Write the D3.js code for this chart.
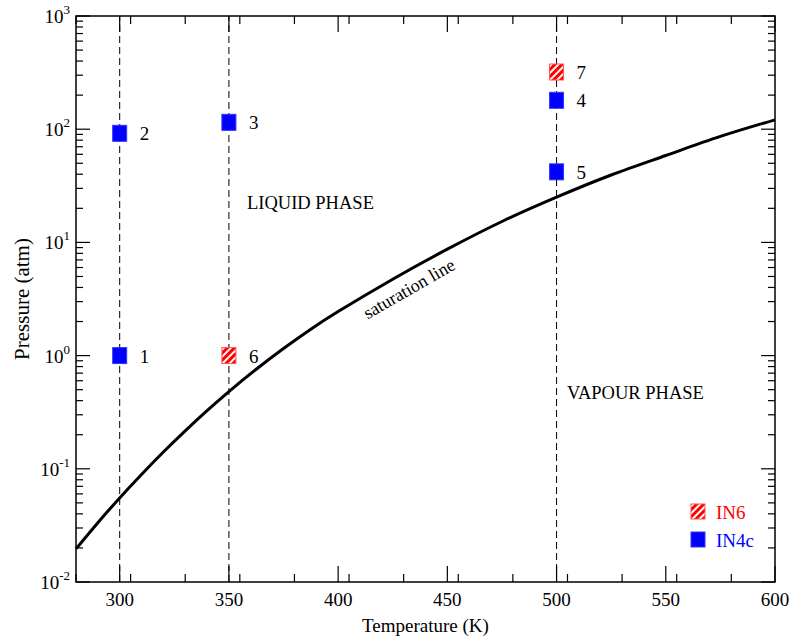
<!DOCTYPE html>
<html>
<head>
<meta charset="utf-8">
<script src="https://cdn.jsdelivr.net/npm/d3@7"></script>
<style>
  body { margin: 0; background: #fff; }
  text { font-family: 'Liberation Serif', 'Times New Roman', serif; }
</style>
</head>
<body>
<div id="chart"></div>
<script>
// saturation line
const satT = [280, 290, 300, 310, 320, 330, 340, 350, 362.5, 375, 387.5, 400, 425, 450, 475, 500, 525, 550, 575, 600]
const satP = [0.0196, 0.0334, 0.0553, 0.0891, 0.1406, 0.2163, 0.326, 0.481, 0.757, 1.155, 1.71, 2.45, 4.73, 8.71, 15.3, 25.1, 39.4, 58.6, 86.3, 121]

// state points
const ptLabel = ['1', '2', '3', '4', '5', '6', '7']
const ptT = [300, 300, 350, 500, 500, 350, 500]
const ptP = [1, 92, 115, 180, 42, 1, 320]
const ptSet = ['IN4c', 'IN4c', 'IN4c', 'IN4c', 'IN4c', 'IN6', 'IN6']

const vLines = [300, 350, 500]
const xTicks = [300, 350, 400, 450, 500, 550, 600]
const yExp = [-2, -1, 0, 1, 2, 3]
const legendNames = ['IN6', 'IN4c']

const width = 791, height = 637
const m = {top: 16, right: 16, bottom: 55, left: 76}

const svg = d3.select('#chart').append('svg')
    .attr('width', width)
    .attr('height', height)

// red / white hatch for IN6
const pat = svg.append('defs').append('pattern')
    .attr('id', 'hatch')
    .attr('patternUnits', 'userSpaceOnUse')
    .attr('width', 5)
    .attr('height', 5)
    .attr('patternTransform', 'rotate(45)')
pat.append('rect').attr('width', 5).attr('height', 5).attr('fill', '#ff0000')
pat.append('rect').attr('width', 2).attr('height', 5).attr('fill', '#fff')

const x = d3.scaleLinear().domain([280, 600]).range([m.left, width - m.right])
const y = d3.scaleLog().domain([0.01, 1000]).range([height - m.bottom, m.top])

const x0 = x.range()[0], x1 = x.range()[1]
const y0 = y.range()[0], y1 = y.range()[1]

const g = svg.append('g')

// dashed verticals
g.selectAll('line.v').data(vLines).enter().append('line')
    .attr('x1', d => x(d)).attr('x2', d => x(d))
    .attr('y1', y0).attr('y2', y1)
    .attr('stroke', '#000')
    .attr('stroke-width', 1)
    .attr('stroke-dasharray', '7,4')

// ticks, inward on all four sides
const xMinor = d3.range(280, 601, 25).filter(d => d % 50 !== 0)
const yMinor = []
yExp.slice(0, -1).forEach(e => { for (let k = 2; k <= 9; k++) yMinor.push(k * Math.pow(10, e)) })

const tg = g.append('g')
function xt(vals, len) {
    vals.forEach(v => {
        tg.append('line').attr('x1', x(v)).attr('x2', x(v)).attr('y1', y0).attr('y2', y0 - len)
        tg.append('line').attr('x1', x(v)).attr('x2', x(v)).attr('y1', y1).attr('y2', y1 + len)
    })
}
function yt(vals, len) {
    vals.forEach(v => {
        tg.append('line').attr('x1', x0).attr('x2', x0 + len).attr('y1', y(v)).attr('y2', y(v))
        tg.append('line').attr('x1', x1).attr('x2', x1 - len).attr('y1', y(v)).attr('y2', y(v))
    })
}
xt(xTicks, 16)
xt(xMinor, 8)
yt(yExp.map(e => Math.pow(10, e)), 14)
yt(yMinor, 7)
tg.selectAll('line').attr('stroke', '#000').attr('stroke-width', 1.2)

// saturation line
const line = d3.line()
    .x((d, i) => x(satT[i]))
    .y(d => y(d))
    .curve(d3.curveNatural)
g.append('path')
    .datum(satP)
    .attr('d', line)
    .attr('fill', 'none')
    .attr('stroke', '#000')
    .attr('stroke-width', 3)

// frame
g.append('rect')
    .attr('x', x0).attr('y', y1)
    .attr('width', x1 - x0).attr('height', y0 - y1)
    .attr('fill', 'none')
    .attr('stroke', '#000')
    .attr('stroke-width', 1.5)

// points
const sq = {w: 14, h: 16}
const fillOf = s => s === 'IN6' ? 'url(#hatch)' : '#0000ff'
const strokeOf = s => s === 'IN6' ? '#ff5555' : '#3333ff'
const pts = g.selectAll('g.pt').data(ptLabel).enter().append('g')
    .attr('transform', (d, i) => `translate(${x(ptT[i])},${y(ptP[i])})`)
pts.append('rect')
    .attr('x', -sq.w / 2).attr('y', -sq.h / 2)
    .attr('width', sq.w).attr('height', sq.h)
    .attr('fill', (d, i) => fillOf(ptSet[i]))
    .attr('stroke', (d, i) => strokeOf(ptSet[i]))
    .attr('stroke-width', 1)
pts.append('text')
    .attr('x', 20).attr('y', 7)
    .attr('font-size', 19)
    .text(d => d)

// x tick labels
g.selectAll('text.xl').data(xTicks).enter().append('text')
    .attr('x', d => x(d)).attr('y', y0 + 24)
    .attr('text-anchor', 'middle')
    .attr('font-size', 19)
    .text(d => d)

// y tick labels
const yl = g.selectAll('text.yl').data(yExp).enter().append('text')
    .attr('x', x0 - 6).attr('y', d => y(Math.pow(10, d)) + 7)
    .attr('text-anchor', 'end')
    .attr('font-size', 19)
yl.append('tspan').text('10')
yl.append('tspan').attr('dy', -9).attr('font-size', 13).text(d => d)

// axis titles
svg.append('text')
    .attr('x', (x0 + x1) / 2).attr('y', 632)
    .attr('text-anchor', 'middle')
    .attr('font-size', 19)
    .text('Temperature (K)')
svg.append('text')
    .attr('transform', `translate(29,${(y0 + y1) / 2}) rotate(-90)`)
    .attr('text-anchor', 'middle')
    .attr('font-size', 21)
    .text('Pressure (atm)')

// region labels
g.append('text').attr('x', 247).attr('y', 209).attr('font-size', 18.5).text('LIQUID PHASE')
g.append('text').attr('x', 567).attr('y', 399).attr('font-size', 18.5).text('VAPOUR PHASE')
g.append('text')
    .attr('transform', 'translate(412,294) rotate(-30)')
    .attr('text-anchor', 'middle')
    .attr('font-size', 18)
    .text('saturation line')

// legend
const lg = g.selectAll('g.lg').data(legendNames).enter().append('g')
    .attr('transform', (d, i) => `translate(698,${512 + i * 28})`)
lg.append('rect')
    .attr('x', -7).attr('y', -8).attr('width', 14).attr('height', 15)
    .attr('fill', d => fillOf(d))
    .attr('stroke', d => strokeOf(d))
lg.append('text')
    .attr('x', 18).attr('y', 7)
    .attr('font-size', 19)
    .attr('fill', d => d === 'IN6' ? '#ff0000' : '#0000ff')
    .text(d => d)
</script>
</body>
</html>
